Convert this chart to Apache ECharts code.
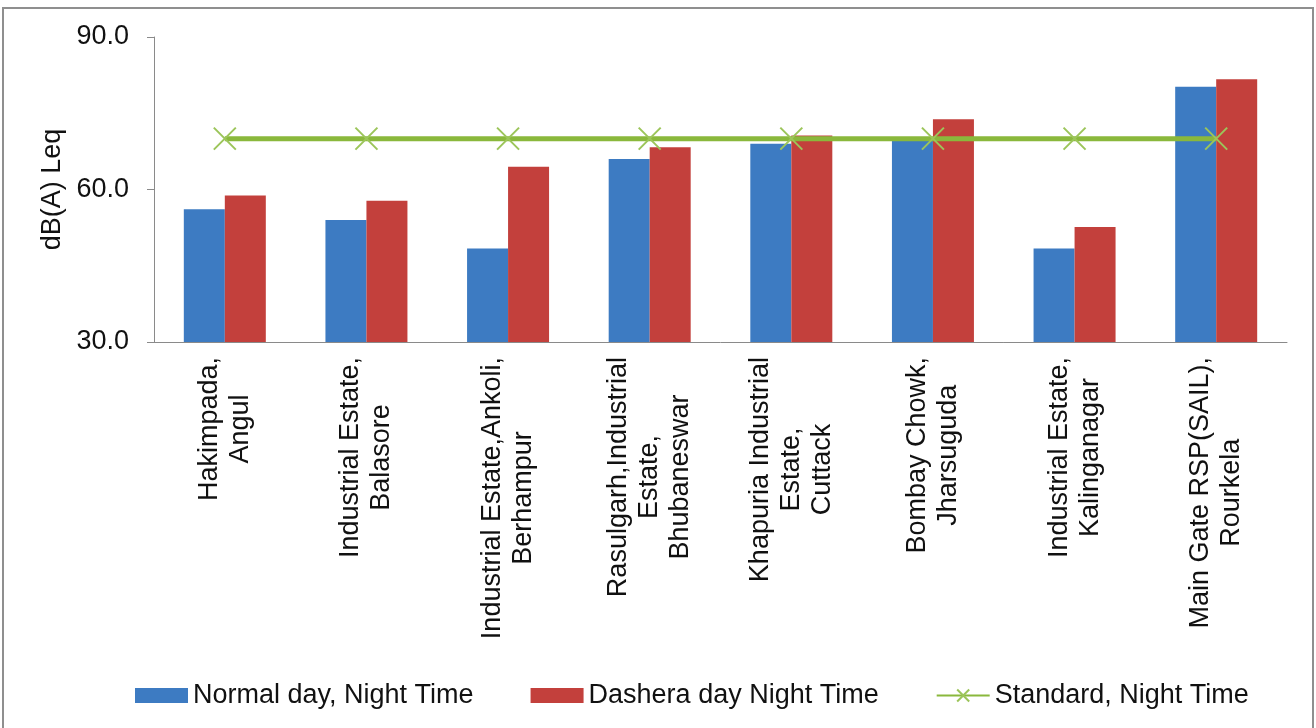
<!DOCTYPE html>
<html>
<head>
<meta charset="utf-8">
<script src="https://cdn.jsdelivr.net/npm/echarts@6/dist/echarts.min.js"></script>
<style>
  html, body { margin: 0; padding: 0; background: #fff; }
  #chart { width: 1316px; height: 728px; }
</style>
</head>
<body>
<div id="chart"></div>
<script>
// Monitoring stations (line breaks follow the axis label layout)
const categories = [
  'Hakimpada,\nAngul',
  'Industrial Estate,\nBalasore',
  'Industrial Estate,Ankoli,\nBerhampur',
  'Rasulgarh,Industrial\nEstate,\nBhubaneswar',
  'Khapuria Industrial\nEstate,\nCuttack',
  'Bombay Chowk,\nJharsuguda',
  'Industrial Estate,\nKalinganagar',
  'Main Gate RSP(SAIL),\nRourkela'
];

// Night-time noise levels, dB(A) Leq
const normalDayNight = [56.1, 54.0, 48.4, 66.0, 69.0, 70.0, 48.4, 80.2];
const dasheraDayNight = [58.8, 57.8, 64.5, 68.3, 70.6, 73.8, 52.6, 81.7];
const standardNight = [70, 70, 70, 70, 70, 70, 70, 70];

// Value axis range
const yMin = 30;
const yMax = 90;
const yStep = 30;

const seriesNames = ['Normal day, Night Time', 'Dashera day Night Time', 'Standard, Night Time'];

const FONT = '"Liberation Sans", Arial, sans-serif';

const chart = echarts.init(document.getElementById('chart'), null, { renderer: 'canvas' });

chart.setOption({
  animation: false,
  backgroundColor: '#ffffff',
  graphic: [{
    type: 'rect',
    shape: { x: 3, y: 8, width: 1310, height: 730 },
    style: { fill: 'none', stroke: '#8f8f8f', lineWidth: 2 },
    silent: true
  }],
  grid: { left: 154, right: 29, top: 37, bottom: 386, containLabel: false },
  legend: {
    left: 130,
    top: 677,
    itemWidth: 53,
    itemHeight: 15,
    itemGap: 57,
    textStyle: { fontFamily: FONT, fontSize: 27, color: '#111' },
    data: [
      { name: seriesNames[0], icon: 'rect' },
      { name: seriesNames[1], icon: 'rect' },
      { name: seriesNames[2] }
    ]
  },
  xAxis: {
    type: 'category',
    data: categories,
    axisLine: { lineStyle: { color: '#8a8a8a', width: 1 } },
    axisTick: { length: 7, lineStyle: { color: '#8a8a8a' } },
    axisLabel: {
      rotate: 90,
      interval: 0,
      margin: 15,
      formatter: function (v) {
        return v.split('\n').map(function (l) { return '{c|' + l + '}'; }).join('\n');
      },
      rich: {
        c: { fontFamily: FONT, fontSize: 27, lineHeight: 31, align: 'center', color: '#111' }
      }
    }
  },
  yAxis: {
    type: 'value',
    min: yMin,
    max: yMax,
    interval: yStep,
    name: 'dB(A) Leq',
    nameLocation: 'middle',
    nameGap: 78,
    nameTextStyle: { fontFamily: FONT, fontSize: 27, color: '#111' },
    axisLine: { show: true, lineStyle: { color: '#8a8a8a', width: 1 } },
    axisTick: { show: true, length: 7, lineStyle: { color: '#8a8a8a' } },
    splitLine: { show: false },
    axisLabel: {
      margin: 25,
      fontFamily: FONT,
      fontSize: 27,
      color: '#111',
      formatter: function (v) { return v.toFixed(1); }
    }
  },
  series: [
    {
      name: seriesNames[0],
      type: 'bar',
      data: normalDayNight,
      barWidth: 41,
      barGap: '0%',
      itemStyle: { color: '#3d7bc2' }
    },
    {
      name: seriesNames[1],
      type: 'bar',
      data: dasheraDayNight,
      barWidth: 41,
      barGap: '0%',
      itemStyle: { color: '#c3403c' }
    },
    {
      name: seriesNames[2],
      type: 'line',
      data: standardNight,
      symbol: 'path://M0,0L20,20M20,0L0,20',
      symbolSize: 22,
      showSymbol: true,
      lineStyle: { color: '#8ab83c', width: 5 },
      itemStyle: { color: '#9cc55a', borderColor: '#9cc55a', borderWidth: 2 },
      z: 5
    }
  ]
});
</script>
</body>
</html>
